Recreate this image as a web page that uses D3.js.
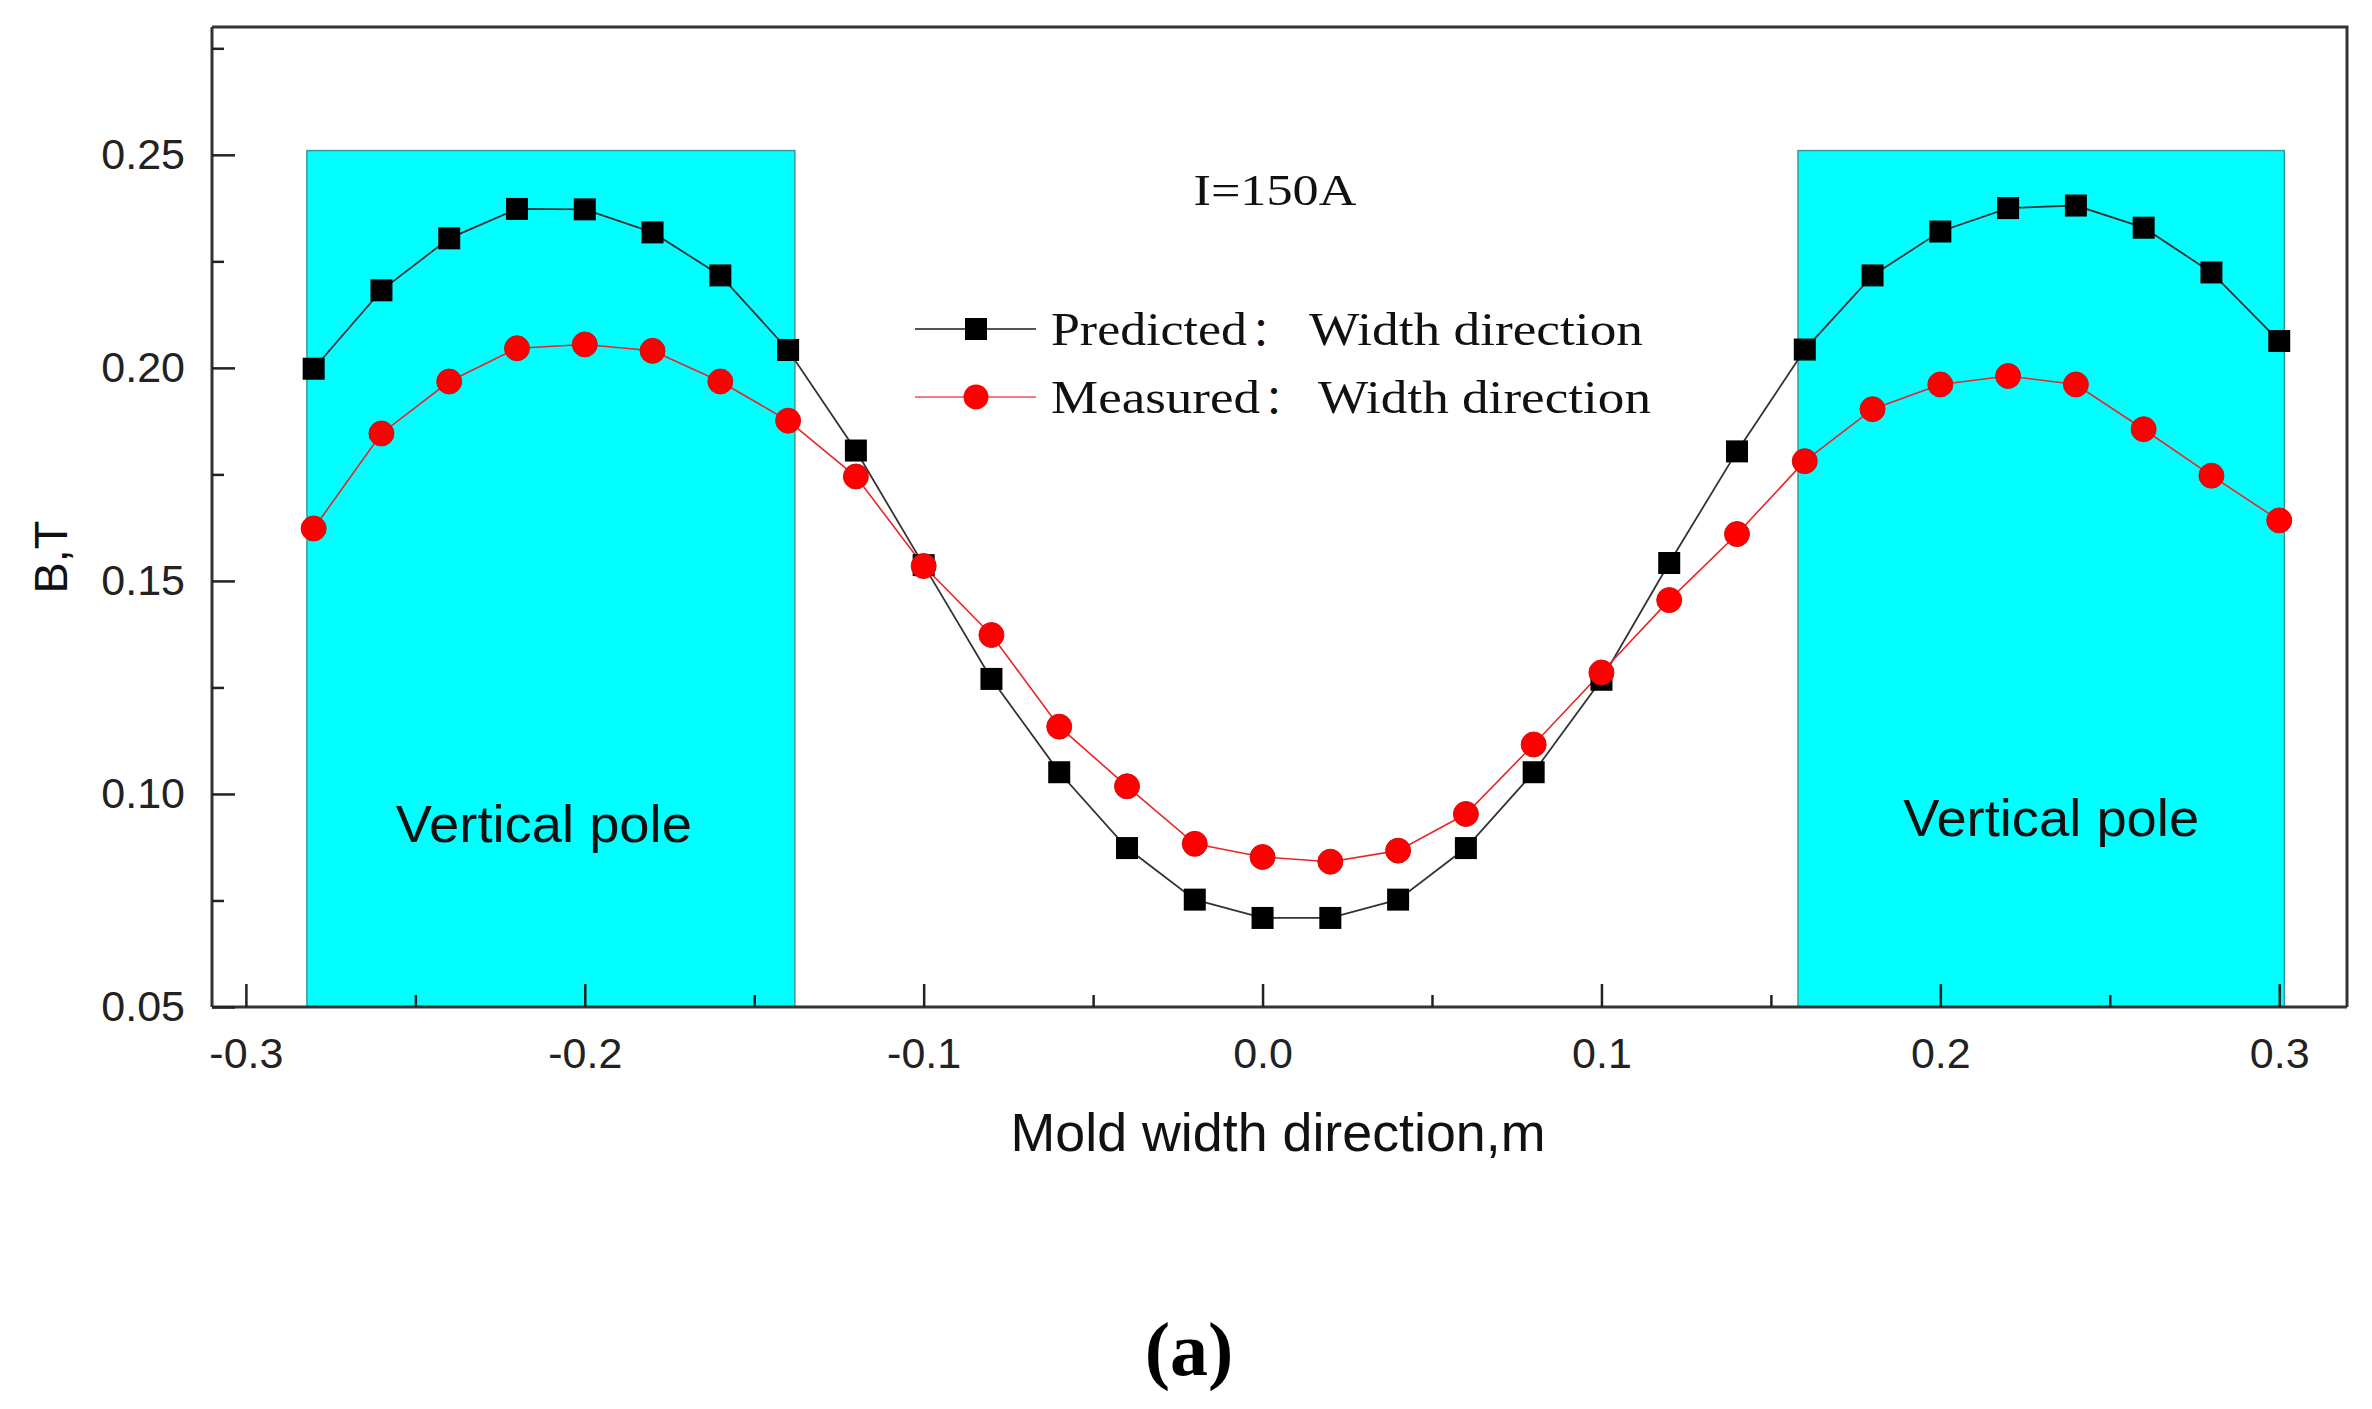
<!DOCTYPE html>
<html>
<head>
<meta charset="utf-8">
<script src="https://cdn.jsdelivr.net/npm/d3@7"></script>
<style>
  html, body { margin: 0; padding: 0; background: #fff; }
  svg { display: block; }
</style>
</head>
<body>
<svg id="chart" width="2372" height="1409"></svg>
<script>
// ---- data ----
const positions = [-0.28, -0.26, -0.24, -0.22, -0.20, -0.18, -0.16, -0.14, -0.12, -0.10,
                   -0.08, -0.06, -0.04, -0.02, 0.00, 0.02, 0.04, 0.06, 0.08, 0.10,
                   0.12, 0.14, 0.16, 0.18, 0.20, 0.22, 0.24, 0.26, 0.28, 0.30];
const predicted = [0.1998, 0.2182, 0.2304, 0.2373, 0.2372, 0.2318, 0.2217, 0.2042, 0.1806, 0.1537,
                   0.1270, 0.1051, 0.0873, 0.0752, 0.0709, 0.0709, 0.0752, 0.0873, 0.1051, 0.1268,
                   0.1542, 0.1804, 0.2043, 0.2217, 0.2320, 0.2375, 0.2381, 0.2329, 0.2224, 0.2063];
const measured  = [0.1623, 0.1846, 0.1968, 0.2046, 0.2055, 0.2040, 0.1968, 0.1876, 0.1745, 0.1535,
                   0.1373, 0.1158, 0.1018, 0.0883, 0.0852, 0.0841, 0.0867, 0.0953, 0.1116, 0.1285,
                   0.1455, 0.1610, 0.1781, 0.1903, 0.1961, 0.1981, 0.1961, 0.1856, 0.1747, 0.1642];
const seriesHeads = ["Predicted", "Measured"];
const seriesColons = ["\uFF1A", "\uFF1A"];
const seriesTails = ["Width direction", "Width direction"];
const poleStarts = [-0.282, 0.158];
const poleEnds   = [-0.138, 0.3015];
const poleTop    = [0.251, 0.251];
const poleLabels = ["Vertical pole", "Vertical pole"];
const xTickValues = [-0.3, -0.2, -0.1, 0.0, 0.1, 0.2, 0.3];
const xTickLabels = ["-0.3", "-0.2", "-0.1", "0.0", "0.1", "0.2", "0.3"];
const xMinorValues = [-0.25, -0.15, -0.05, 0.05, 0.15, 0.25];
const yTickValues = [0.05, 0.10, 0.15, 0.20, 0.25];
const yTickLabels = ["0.05", "0.10", "0.15", "0.20", "0.25"];
const yMinorValues = [0.075, 0.125, 0.175, 0.225, 0.275];
const xDomain = [-0.31, 0.32];
const yDomain = [0.05, 0.28];
const annotation = "I=150A";
const xTitle = "Mold width direction,m";
const yTitle = "B,T";
const panelLabel = "(a)";

// ---- layout ----
const L = 212, R = 2347, T = 27, B = 1007;
const svg = d3.select("#chart");
svg.append("rect").attr("width", 2372).attr("height", 1409).attr("fill", "#fff");

const x = d3.scaleLinear().domain(xDomain).range([L, R]);
const y = d3.scaleLinear().domain(yDomain).range([B, T]);

// pole rectangles
const poles = poleStarts.map((s, i) => ({ s, e: poleEnds[i], t: poleTop[i], label: poleLabels[i] }));
svg.append("g").selectAll("rect").data(poles).join("rect")
  .attr("x", d => x(d.s)).attr("y", d => y(d.t))
  .attr("width", d => x(d.e) - x(d.s)).attr("height", d => y(yDomain[0]) - y(d.t))
  .attr("fill", "#00ffff").attr("stroke", "#3a9a9a").attr("stroke-width", 1.5);

const poleTextShift = [-7, 10];
const poleTextBase = [842, 836];
svg.append("g").selectAll("text").data(poles).join("text")
  .attr("x", (d, i) => (x(d.s) + x(d.e)) / 2 + poleTextShift[i])
  .attr("y", (d, i) => poleTextBase[i])
  .attr("text-anchor", "middle")
  .attr("font-family", "'Liberation Sans', Arial, sans-serif")
  .attr("font-size", 52).attr("fill", "#111")
  .attr("textLength", 296).attr("lengthAdjust", "spacingAndGlyphs")
  .text(d => d.label);

// frame (top and right)
svg.append("path")
  .attr("d", `M${L},${T}H${R}V${B}`)
  .attr("fill", "none").attr("stroke", "#333").attr("stroke-width", 3);

// x axis
const fontAx = "'Liberation Sans', Arial, sans-serif";
const gx = svg.append("g").attr("transform", `translate(0,${B})`)
  .call(d3.axisBottom(x).tickValues(xTickValues).tickSize(-23).tickPadding(30)
        .tickFormat((d, i) => xTickLabels[i]));
gx.select(".domain").attr("stroke", "#333").attr("stroke-width", 3)
  .attr("d", `M${L},0H${R}`);
gx.selectAll(".tick line").attr("stroke", "#222").attr("stroke-width", 2.5);
gx.selectAll(".tick text").attr("font-family", fontAx).attr("font-size", 43).attr("fill", "#222");

const gxm = svg.append("g").attr("transform", `translate(0,${B})`)
  .call(d3.axisBottom(x).tickValues(xMinorValues).tickSize(-12).tickFormat(""));
gxm.select(".domain").remove();
gxm.selectAll(".tick line").attr("stroke", "#222").attr("stroke-width", 2.5);

// y axis
const gy = svg.append("g").attr("transform", `translate(${L},0)`)
  .call(d3.axisLeft(y).tickValues(yTickValues).tickSize(-23).tickPadding(27)
        .tickFormat((d, i) => yTickLabels[i]));
gy.select(".domain").attr("stroke", "#333").attr("stroke-width", 3)
  .attr("d", `M0,${T}V${B}`);
gy.selectAll(".tick line").attr("stroke", "#222").attr("stroke-width", 2.5);
gy.selectAll(".tick text").attr("font-family", fontAx).attr("font-size", 43).attr("fill", "#222");

const gym = svg.append("g").attr("transform", `translate(${L},0)`)
  .call(d3.axisLeft(y).tickValues(yMinorValues).tickSize(-12).tickFormat(""));
gym.select(".domain").remove();
gym.selectAll(".tick line").attr("stroke", "#222").attr("stroke-width", 2.5);

// axis titles
svg.append("text").attr("x", 1278).attr("y", 1151).attr("text-anchor", "middle")
  .attr("font-family", fontAx).attr("font-size", 53).attr("fill", "#111")
  .attr("textLength", 535).attr("lengthAdjust", "spacingAndGlyphs")
  .text(xTitle);
svg.append("text").attr("transform", "translate(67,557) rotate(-90)").attr("text-anchor", "middle")
  .attr("font-family", fontAx).attr("font-size", 47).attr("fill", "#111")
  .text(yTitle);

// series
const pred = positions.map((p, i) => [p, predicted[i]]);
const meas = positions.map((p, i) => [p, measured[i]]);
const line = d3.line().x(d => x(d[0])).y(d => y(d[1]));

svg.append("path").datum(pred).attr("d", line)
  .attr("fill", "none").attr("stroke", "#333").attr("stroke-width", 1.8);
svg.append("path").datum(meas).attr("d", line)
  .attr("fill", "none").attr("stroke", "#e8262a").attr("stroke-width", 1.6);

const sq = 22;
svg.append("g").selectAll("rect").data(pred).join("rect")
  .attr("x", d => x(d[0]) - sq / 2).attr("y", d => y(d[1]) - sq / 2)
  .attr("width", sq).attr("height", sq).attr("fill", "#000");
svg.append("g").selectAll("circle").data(meas).join("circle")
  .attr("cx", d => x(d[0])).attr("cy", d => y(d[1])).attr("r", 12.5)
  .attr("fill", "#ff0000").attr("stroke", "#d01010").attr("stroke-width", 1);

// annotation
const fontSerif = "'Liberation Serif', 'Times New Roman', serif";
svg.append("text").attr("x", 1275).attr("y", 205).attr("text-anchor", "middle")
  .attr("font-family", fontSerif).attr("font-size", 45).attr("fill", "#111")
  .attr("textLength", 163).attr("lengthAdjust", "spacingAndGlyphs")
  .text(annotation);

// legend
const legY = [329, 397];
const headEnd = [1247, 1260];
const colonX = [1251, 1264];
const tailStart = [1309, 1318];
const tailEnd = [1643, 1651];
const lg = svg.append("g");
lg.append("line").attr("x1", 915).attr("x2", 1036).attr("y1", legY[0]).attr("y2", legY[0])
  .attr("stroke", "#555").attr("stroke-width", 1.8);
lg.append("rect").attr("x", 976 - sq / 2).attr("y", legY[0] - sq / 2).attr("width", sq).attr("height", sq).attr("fill", "#000");
lg.append("line").attr("x1", 915).attr("x2", 1036).attr("y1", legY[1]).attr("y2", legY[1])
  .attr("stroke", "#ee5555").attr("stroke-width", 1.6);
lg.append("circle").attr("cx", 976).attr("cy", legY[1]).attr("r", 12.5).attr("fill", "#ff0000");
seriesHeads.forEach((n, i) => {
  lg.append("text").attr("x", 1051).attr("y", legY[i] + 16)
    .attr("font-family", fontSerif).attr("font-size", 47).attr("fill", "#111")
    .attr("textLength", headEnd[i] - 1051).attr("lengthAdjust", "spacingAndGlyphs")
    .text(n);
  lg.append("text").attr("x", colonX[i]).attr("y", legY[i] + 16)
    .attr("font-family", "'Noto Sans CJK SC', sans-serif").attr("font-size", 40).attr("fill", "#111")
    .text(seriesColons[i]);
  lg.append("text").attr("x", tailStart[i]).attr("y", legY[i] + 16)
    .attr("font-family", fontSerif).attr("font-size", 47).attr("fill", "#111")
    .attr("textLength", tailEnd[i] - tailStart[i]).attr("lengthAdjust", "spacingAndGlyphs")
    .text(seriesTails[i]);
});

// panel label
svg.append("text").attr("x", 1189).attr("y", 1375).attr("text-anchor", "middle")
  .attr("font-family", fontSerif).attr("font-size", 76).attr("font-weight", "bold").attr("fill", "#000")
  .text(panelLabel);
</script>
</body>
</html>
